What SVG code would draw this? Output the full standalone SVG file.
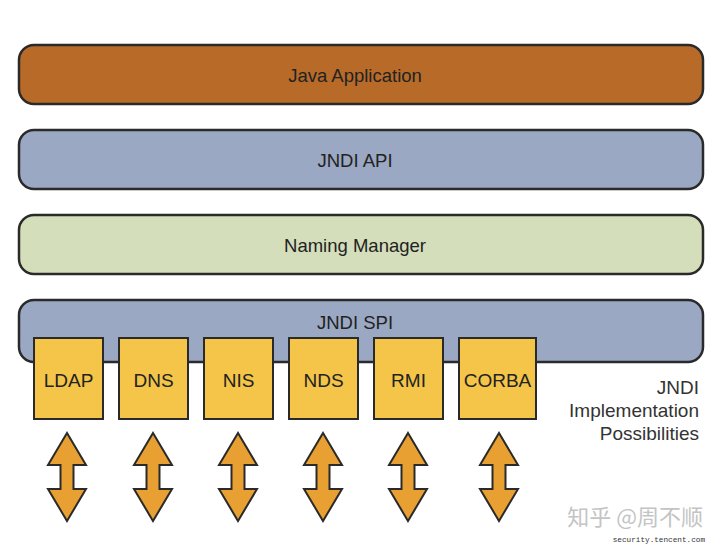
<svg xmlns="http://www.w3.org/2000/svg" width="720" height="546" viewBox="0 0 720 546">
<style>
.bar{stroke:#2a2a2a;stroke-width:2.5}
.box{fill:#F4C548;stroke:#2a2a2a;stroke-width:2}
.lbl{font-family:"Liberation Sans",Arial,sans-serif;font-size:18.5px;fill:#222;text-anchor:middle;dominant-baseline:central}
.blbl{font-family:"Liberation Sans",Arial,sans-serif;font-size:19px;fill:#222;text-anchor:middle;dominant-baseline:central}
.side{font-family:"Liberation Sans",Arial,sans-serif;font-size:19px;fill:#333;text-anchor:end}
.arr{fill:#E8A032;stroke:#2a2a2a;stroke-width:2;stroke-linejoin:miter}
</style>
<defs>
<path id="dbl" d="M0,-44 L19,-12 L6.5,-12 L6.5,12 L19,12 L0,44 L-19,12 L-6.5,12 L-6.5,-12 L-19,-12 Z"/>
</defs>
<rect width="720" height="546" fill="#ffffff"/>
<g id="java-application">
<rect class="bar" x="19" y="45" width="684" height="59" rx="15" fill="#B86B28"/>
<text class="lbl" x="355" y="75">Java Application</text>
</g>
<g id="jndi-api">
<rect class="bar" x="19" y="130" width="684" height="59" rx="15" fill="#9AA8C3"/>
<text class="lbl" x="355" y="160">JNDI API</text>
</g>
<g id="naming-manager">
<rect class="bar" x="19" y="215" width="684" height="59" rx="15" fill="#D4DEBB"/>
<text class="lbl" x="355" y="245">Naming Manager</text>
</g>
<g id="jndi-spi">
<rect class="bar" x="19" y="300" width="684" height="62" rx="15" fill="#9AA8C3"/>
<text class="lbl" x="355" y="322">JNDI SPI</text>
</g>
<g id="ldap"><rect class="box" x="34" y="338" width="69" height="81"/><text class="blbl" x="68.5" y="380">LDAP</text></g>
<g id="dns"><rect class="box" x="119" y="338" width="69" height="81"/><text class="blbl" x="153.5" y="380">DNS</text></g>
<g id="nis"><rect class="box" x="204" y="338" width="69" height="81"/><text class="blbl" x="238.5" y="380">NIS</text></g>
<g id="nds"><rect class="box" x="289" y="338" width="69" height="81"/><text class="blbl" x="323.5" y="380">NDS</text></g>
<g id="rmi"><rect class="box" x="374" y="338" width="69" height="81"/><text class="blbl" x="408.5" y="380">RMI</text></g>
<g id="corba"><rect class="box" x="459" y="338" width="77" height="81"/><text class="blbl" x="497.5" y="380">CORBA</text></g>
<g id="impl-label">
<text class="side" x="699" y="394">JNDI</text>
<text class="side" x="699" y="417">Implementation</text>
<text class="side" x="699" y="440">Possibilities</text>
</g>
<g id="connectors">
<use href="#dbl" class="arr" x="67" y="477"/>
<use href="#dbl" class="arr" x="153" y="477"/>
<use href="#dbl" class="arr" x="238" y="477"/>
<use href="#dbl" class="arr" x="323" y="477"/>
<use href="#dbl" class="arr" x="408" y="477"/>
<use href="#dbl" class="arr" x="499" y="477"/>
</g>
<g id="watermark">
<text x="703" y="525" font-family="'Noto Sans CJK SC',sans-serif" font-size="22" fill="#c4c4c4" text-anchor="end">知乎 @周不顺</text>
<text x="705" y="542" font-family="'Liberation Mono',monospace" font-size="7.7" fill="#333" text-anchor="end">security.tencent.com</text>
</g>
</svg>
